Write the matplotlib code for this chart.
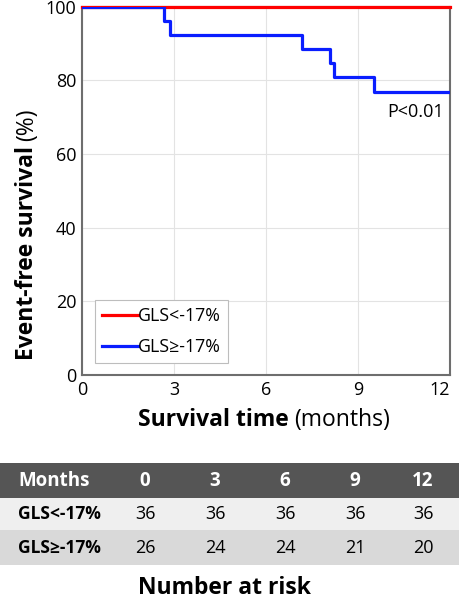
import numpy as np
import matplotlib.pyplot as plt
from matplotlib.patches import Rectangle

plt.rcParams['font.family'] = ['Open Sans', 'DejaVu Sans']

# Kaplan-Meier step data (months, survival %)
low_t = [0, 12]
low_s = [100, 100]
high_t = [0, 2.66, 2.88, 7.17, 8.1, 8.22, 9.51, 12]
high_s = [100, 96.2, 92.3, 88.5, 84.6, 80.8, 76.9, 76.9]

labels = ['GLS<-17%', 'GLS\u2265-17%']
months = [0, 3, 6, 9, 12]
risk_low = [36, 36, 36, 36, 36]
risk_high = [26, 24, 24, 21, 20]

W, H = 459, 600
fig = plt.figure(figsize=(4.59, 6.0), dpi=100)
ax = fig.add_axes([82 / W, 1 - 375 / H, 368 / W, 368.3 / H])

ax.step(low_t, low_s, where='post', color='#ff0000', lw=2.3, label=labels[0], zorder=3, clip_on=False)
ax.step(high_t, high_s, where='post', color='#0a1eff', lw=2.3, label=labels[1], zorder=3)

ax.set_xlim(0, 12)
ax.set_ylim(0, 100)
ax.set_xticks([0, 3, 6, 9, 12])
ax.set_yticks([0, 20, 40, 60, 80, 100])
ax.grid(True, color='#e3e3e3', lw=0.8)
ax.tick_params(length=0, labelsize=13, pad=4)
for s in ax.spines.values():
    s.set_color('#6e6e6e')
    s.set_linewidth(1.5)
# keep the last x label inside the figure
ax.get_xticklabels()[-1].set_horizontalalignment('right')
ax.get_xticklabels()[-1].set_x(12.25)

ax.text(11.8, 71.5, 'P<0.01', ha='right', va='center', fontsize=13)

leg = ax.legend(loc='lower left', bbox_to_anchor=(13 / 368, 12 / 368), borderaxespad=0,
                fontsize=12.8, handlelength=2.0, handletextpad=0.0, borderpad=0.4,
                labelspacing=0.7, fancybox=False, framealpha=1)
leg.get_frame().set_edgecolor('#bdbdbd')
leg.get_frame().set_linewidth(0.8)

# axis labels with mixed weights
fig.canvas.draw()
r = fig.canvas.get_renderer()
t1 = fig.text(138 / W, 1 - 420 / H, 'Survival time', fontsize=16.5, fontweight='bold', ha='left', va='center')
bb = t1.get_window_extent(r)
fig.text(bb.x1 / W + 5 / W, 1 - 420 / H, '(months)', fontsize=16.5, ha='left', va='center')

t2 = fig.text(27 / W, 1 - 360 / H, 'Event-free survival', fontsize=16.5, fontweight='bold',
              rotation=90, ha='center', va='bottom')
bb = t2.get_window_extent(r)
fig.text(27 / W, bb.y1 / H + 5 / H, '(%)', fontsize=16.5, rotation=90, ha='center', va='bottom')

# number-at-risk table
rows = [(463, 498, '#555555'), (498, 530, '#efefef'), (530, 565, '#d9d9d9')]
for y0, y1, c in rows:
    fig.patches.append(Rectangle((0, 1 - y1 / H), 1, (y1 - y0) / H, transform=fig.transFigure,
                                 facecolor=c, edgecolor='none'))
col_x = [145, 215, 285, 355, 423]
fig.text(18 / W, 1 - 481 / H, 'Months', color='white', fontsize=13.5, fontweight='bold', va='center')
fig.text(18 / W, 1 - 514 / H, labels[0], fontsize=12.5, fontweight='bold', va='center')
fig.text(18 / W, 1 - 548 / H, labels[1], fontsize=12.5, fontweight='bold', va='center')
for i, m in enumerate(months):
    fig.text(col_x[i] / W, 1 - 481 / H, str(m), color='white', fontsize=13.5, fontweight='bold', ha='center', va='center')
    fig.text(col_x[i] / W, 1 - 514 / H, str(risk_low[i]), fontsize=13, ha='center', va='center')
    fig.text(col_x[i] / W, 1 - 548 / H, str(risk_high[i]), fontsize=13, ha='center', va='center')

fig.text(224 / W, 1 - 588 / H, 'Number at risk', fontsize=16.5, fontweight='bold', ha='center', va='center')

fig.savefig('out.png', dpi=100)
